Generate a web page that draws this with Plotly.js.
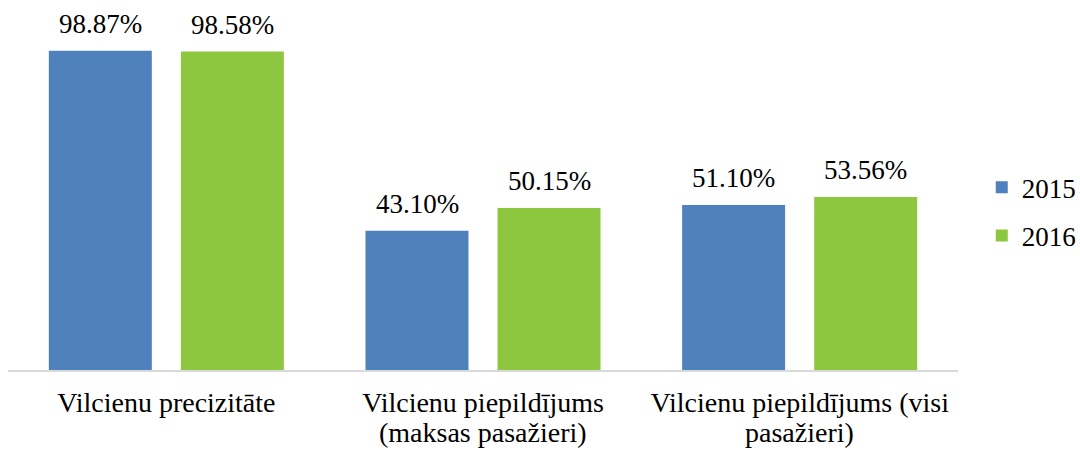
<!DOCTYPE html>
<html><head><meta charset="utf-8">
<script src="https://cdn.plot.ly/plotly-3.0.1.min.js"></script>
<style>html,body{margin:0;padding:0;background:#fff}#chart{width:1080px;height:450px}</style>
</head><body><div id="chart"></div>
<script>
const categories = ["Vilcienu precizitāte", "Vilcienu piepildījums", "Vilcienu piepildījums (visi"];
const categoriesLine2 = ["", "(maksas pasažieri)", "pasažieri)"];
const seriesNames = ["2015", "2016"];
const values2015 = [98.87, 43.10, 51.10];
const values2016 = [98.58, 50.15, 53.56];
const colors = ["#4F81BD", "#8DC63F"];
const font = "Liberation Serif";
const fs = 27;
const tfs = 28;

const traces = [values2015, values2016].map((vals, i) => ({
  type: "bar", name: seriesNames[i], x: categories, y: vals,
  legendgroup: "g" + i,
  marker: {color: colors[i]}, hoverinfo: "none"
}));

const annotations = [];
[values2015, values2016].forEach((vals, i) => {
  vals.forEach((v, j) => {
    annotations.push({
      x: j, y: v, xref: "x", yref: "y", text: v.toFixed(2) + "%",
      showarrow: false, yanchor: "bottom", yshift: 10,
      xshift: (i === 0 ? -1 : 1) * 66,
      font: {family: font, size: fs, color: "#000"}
    });
  });
});
categoriesLine2.forEach((t, j) => {
  if (!t) return;
  annotations.push({
    x: j, y: 0, xref: "x", yref: "paper", text: t, showarrow: false, borderpad: 0,
    yanchor: "top", yshift: -46, font: {family: font, size: tfs, color: "#000"}
  });
});

const layout = {
  width: 1080, height: 450,
  margin: {l: 8, r: 122, t: 47, b: 80, autoexpand: false},
  paper_bgcolor: "#fff", plot_bgcolor: "#fff",
  barmode: "group", bargap: 0.166, bargroupgap: 0.22,
  font: {family: font, size: fs, color: "#000"},
  xaxis: {
    type: "category", showline: true, linecolor: "#D9D9D9", linewidth: 1.5,
    ticks: "", showgrid: false, ticklabelstandoff: 7, automargin: false,
    tickfont: {family: font, size: tfs, color: "#000"}
  },
  yaxis: {range: [0, 100], visible: false, showgrid: false, zeroline: false},
  showlegend: true,
  legend: {x: 1.025, xanchor: "left", y: 0.49, yanchor: "middle", traceorder: "grouped",
    font: {family: font, size: fs, color: "#000"}, itemwidth: 30, tracegroupgap: 10},
  annotations: annotations
};
Plotly.newPlot("chart", traces, layout, {displayModeBar: false, staticPlot: true});
</script></body></html>
